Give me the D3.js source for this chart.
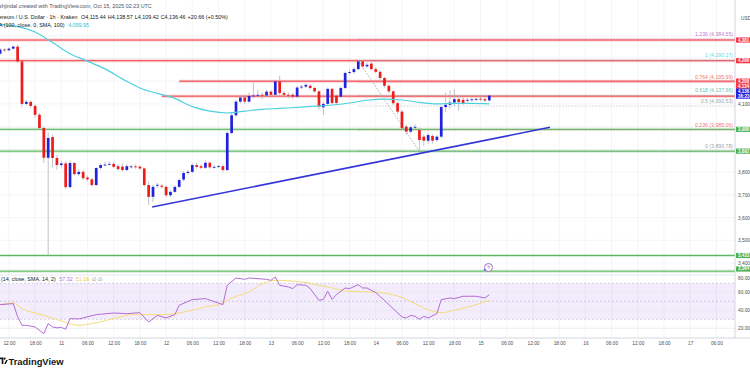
<!DOCTYPE html>
<html>
<head>
<meta charset="utf-8">
<script src="https://cdn.jsdelivr.net/npm/d3@7"></script>
<style>
body { margin: 0; background: #fff; }
svg { display: block; }
text { font-family: "Liberation Sans", Arial, sans-serif; }
</style>
</head>
<body>
<div id="chart"></div>
<script>
// hourly candles, first one is Oct 10 10:00 UTC
const opens = [
    4321, 4339, 4336, 4343, 4352, 4287, 4100, 4109, 4091, 4052,
    3994, 3863, 3954, 3862, 3831, 3838, 3734, 3840, 3791, 3801,
    3776, 3768, 3743, 3818, 3831, 3833, 3836, 3826, 3824, 3809,
    3823, 3825, 3824, 3816, 3743, 3691, 3740, 3740, 3735, 3698,
    3713, 3735, 3767, 3796, 3801, 3831, 3826, 3819, 3841, 3821,
    3823, 3826, 3809, 3972, 4050, 4110, 4128, 4110, 4135, 4137,
    4140, 4137, 4154, 4140, 4199, 4148, 4140, 4140, 4132, 4172,
    4176, 4180, 4170, 4155, 4085, 4100, 4166, 4136, 4132, 4170,
    4236, 4240, 4253, 4287, 4265, 4277, 4253, 4241, 4214, 4180,
    4155, 4103, 4066, 4000, 3978, 3997, 3985, 3956, 3938, 3959,
    3941, 3956, 4086, 4096, 4106, 4121, 4118, 4116, 4117, 4119,
    4123, 4121, 4115.44
];
const closes = [
    4339, 4336, 4343, 4352, 4287, 4100, 4109, 4091, 4052, 3994,
    3863, 3950, 3862, 3831, 3838, 3734, 3840, 3791, 3801, 3773,
    3768, 3743, 3818, 3831, 3833, 3836, 3823, 3813, 3809, 3826,
    3825, 3822, 3816, 3743, 3691, 3735, 3744, 3735, 3698, 3713,
    3735, 3765, 3796, 3801, 3831, 3823, 3819, 3841, 3821, 3823,
    3826, 3809, 3972, 4050, 4110, 4128, 4110, 4135, 4137, 4140,
    4137, 4154, 4140, 4199, 4148, 4140, 4136, 4132, 4172, 4176,
    4184, 4170, 4155, 4088, 4100, 4166, 4104, 4104, 4170, 4236,
    4240, 4253, 4287, 4265, 4272, 4253, 4241, 4214, 4180, 4155,
    4103, 4066, 3993, 3978, 3997, 3999, 3941, 3938, 3963, 3938,
    3956, 4086, 4096, 4106, 4121, 4108, 4102, 4118, 4120, 4122,
    4120, 4115, 4136.46
];
const highs = [
    4345, 4345, 4348, 4356, 4362, 4290, 4118, 4114, 4098, 4060,
    4000, 3975, 3965, 3875, 3850, 3848, 3852, 3845, 3812, 3808,
    3785, 3775, 3822, 3838, 3845, 3848, 3845, 3835, 3838, 3835,
    3832, 3834, 3830, 3820, 3757, 3742, 3752, 3748, 3742, 3720,
    3742, 3772, 3805, 3812, 3838, 3840, 3835, 3852, 3848, 3830,
    3832, 3833, 3980, 4060, 4118, 4138, 4134, 4150, 4193, 4162,
    4150, 4162, 4160, 4205, 4224, 4158, 4150, 4148, 4178, 4184,
    4190, 4186, 4176, 4160, 4108, 4172, 4170, 4142, 4176, 4242,
    4250, 4262, 4292, 4290, 4282, 4284, 4262, 4248, 4220, 4186,
    4160, 4110, 4072, 4008, 4005, 4010, 3996, 3965, 3970, 3966,
    3962, 4092, 4150, 4160, 4165, 4140, 4130, 4125, 4128, 4130,
    4132, 4128, 4138.57
];
const lows = [
    4315, 4330, 4332, 4340, 4280, 4085, 4092, 4082, 4040, 3985,
    3840, 3433, 3820, 3810, 3820, 3725, 3728, 3785, 3782, 3765,
    3760, 3735, 3738, 3810, 3825, 3828, 3818, 3806, 3802, 3805,
    3815, 3815, 3810, 3735, 3655, 3668, 3730, 3728, 3690, 3690,
    3708, 3730, 3760, 3790, 3795, 3815, 3812, 3814, 3815, 3815,
    3818, 3800, 3804, 3965, 4042, 4102, 4100, 4104, 4125, 4128,
    4120, 4130, 4132, 4136, 4140, 4130, 4126, 4120, 4128, 4165,
    4170, 4162, 4148, 4075, 4051, 4095, 4098, 4098, 4126, 4164,
    4228, 4232, 4248, 4258, 4258, 4246, 4235, 4206, 4172, 4146,
    4095, 4055, 3985, 3965, 3970, 3985, 3891, 3915, 3925, 3926,
    3932, 3950, 4062, 4080, 4090, 4070, 4095, 4108, 4110, 4112,
    4112, 4108, 4109.42
];

// SMA 100 (hour index from first candle)
const smaHours = [-2, 0, 4, 8, 12, 16, 20, 24, 28, 32, 36, 40, 44, 48, 52, 56, 60, 64, 68, 72, 76, 80, 84, 88, 92, 96, 100, 104, 108, 112];
const smaValues = [4452, 4450, 4440, 4416, 4370, 4321, 4288, 4254, 4210, 4170, 4146, 4124, 4088, 4068, 4060, 4068, 4076, 4080, 4085, 4090, 4095, 4104, 4116, 4121, 4117, 4107, 4100, 4102, 4102, 4099.95];

// RSI 14 and its SMA 14
const rsiHours = [0, 3, 4, 5, 6, 8, 10, 11, 12, 13, 14, 15, 16, 18, 22, 26, 29, 32, 34, 36, 38, 40, 41, 44, 47, 50, 51, 52, 54, 56, 57, 61, 62, 63, 64, 66, 67, 68, 70, 71, 73, 74, 75, 76, 77, 79, 80, 82, 83, 84, 86, 88, 89, 92, 93, 94, 95, 96, 97, 98, 100, 101, 103, 104, 106, 109, 111, 112];
const rsiValues = [46.3, 47.4, 33, 23.3, 23.3, 21.5, 14, 25.2, 21.5, 20.5, 21, 18.9, 30.8, 30.4, 35.2, 37, 36.3, 37.4, 27, 34.4, 31.5, 35.2, 45.6, 51.9, 53, 48, 46.3, 67.8, 75.9, 74.4, 75.9, 74.4, 73.3, 77, 67.8, 65.9, 64.1, 68.5, 67.8, 64.1, 51.1, 52.2, 61.1, 52.2, 57.4, 64.8, 64.1, 68.5, 64.8, 64.8, 59.6, 51.1, 46.3, 32.6, 31.5, 34.4, 33.3, 30, 33.3, 31.5, 36.3, 51.9, 53.7, 53, 55.6, 55.6, 53.7, 57.32];
const rsiMaHours = [0, 3, 5, 10, 14, 18, 21, 26, 30, 37, 43, 47, 50, 53, 57, 60, 63, 69, 75, 80, 85, 91, 95, 99, 101, 104, 109, 112];
const rsiMaValues = [46.3, 48.1, 41.9, 34.4, 28.1, 23.3, 25.2, 30.8, 35.2, 35.2, 38.9, 43.7, 46.3, 53.7, 60.4, 69.6, 73.3, 71.5, 65.9, 61.1, 60.4, 55.9, 47.4, 38.9, 37.4, 40, 46.3, 51.16];

const priceTicks = [3400, 3500, 3600, 3700, 3800, 3900, 4000, 4100, 4200, 4300, 4400];
const rsiTicks = [20, 40, 60, 80];
const rsiBands = [70, 50, 30];

// drawn horizontal lines: price, and hour where the line starts
const resistances = [4381, 4290, 4200, 4134];
const resistanceStart = [-20, -20, 41, 37];
const supports = [3988, 3892, 3433, 3364];

// fib retracement from the Oct 13 high to the Oct 14 low
const fibLevels = ["1.236", "1", "0.764", "0.618", "0.5", "0.236", "0"];
const fibPrices = [4384.55, 4290.27, 4195.99, 4137.66, 4090.53, 3985.06, 3890.78];
const fibColors = ["#ab47bc", "#26c6da", "#e53935", "#26a69a", "#787b86", "#f23645", "#787b86"];
const fibAnchor = [{ h: 82, p: 4290.27 }, { h: 96, p: 3890.78 }];

const trendLine = [{ h: 34.8, p: 3646 }, { h: 125.9, p: 3997 }];

const upColor = "#2222dd";
const downColor = "#ee1b1b";

const svg = d3.select("#chart").append("svg").attr("width", 750).attr("height", 375);

const t0 = Date.UTC(2025, 9, 10, 10);
const hourMs = 3600e3;
const dates = opens.map((d, i) => new Date(t0 + i * hourMs));
const x = d3.scaleUtc().domain([dates[0], dates[dates.length - 1]]).range([0.15, 489.3]);
const xh = h => x(new Date(t0 + h * hourMs));
const y = d3.scaleLinear().domain([3400, 4400]).range([263, 35.7]);
const yR = d3.scaleLinear().domain([20, 80]).range([328.3, 274.3]);

const plotRight = 735;
const mainBottom = 275;
const rsiBottom = 338;

const defs = svg.append("defs");
defs.append("clipPath").attr("id", "mainClip").append("rect")
    .attr("x", 0).attr("y", 0).attr("width", plotRight).attr("height", mainBottom);
defs.append("clipPath").attr("id", "rsiClip").append("rect")
    .attr("x", 0).attr("y", mainBottom).attr("width", plotRight).attr("height", rsiBottom - mainBottom);

// grid
const timeTicks = d3.utcHour.every(6).range(x.invert(-5), x.invert(plotRight));
svg.append("g").selectAll("line").data(timeTicks).join("line")
    .attr("x1", d => x(d)).attr("x2", d => x(d))
    .attr("y1", 0).attr("y2", rsiBottom)
    .attr("stroke", "#eef0f4").attr("stroke-width", 0.7);
svg.append("g").selectAll("line").data(priceTicks).join("line")
    .attr("x1", 0).attr("x2", plotRight)
    .attr("y1", d => y(d)).attr("y2", d => y(d))
    .attr("stroke", "#eef0f4").attr("stroke-width", 0.7);

const main = svg.append("g").attr("clip-path", "url(#mainClip)");

// support / resistance lines
function hLine(p, h0, color) {
    const x0 = Math.max(xh(h0), 0);
    main.append("line").attr("x1", x0).attr("x2", plotRight)
        .attr("y1", y(p)).attr("y2", y(p))
        .attr("stroke", color).attr("stroke-opacity", 0.25).attr("stroke-width", 3);
    main.append("line").attr("x1", x0).attr("x2", plotRight)
        .attr("y1", y(p)).attr("y2", y(p))
        .attr("stroke", color).attr("stroke-width", 1);
}
resistances.forEach((p, i) => hLine(p, resistanceStart[i], "#f0444a"));
supports.forEach(p => hLine(p, -20, "#5cb860"));

// fib levels
main.append("g").selectAll("line").data(fibPrices).join("line")
    .attr("x1", xh(fibAnchor[0].h)).attr("x2", plotRight)
    .attr("y1", d => y(d)).attr("y2", d => y(d))
    .attr("stroke", (d, i) => fibColors[i]).attr("stroke-opacity", 0.45)
    .attr("stroke-width", 0.8).attr("stroke-dasharray", "1.5,1.5");
main.append("line")
    .attr("x1", xh(fibAnchor[0].h)).attr("y1", y(fibAnchor[0].p))
    .attr("x2", xh(fibAnchor[1].h)).attr("y2", y(fibAnchor[1].p))
    .attr("stroke", "#9598a1").attr("stroke-width", 0.8).attr("stroke-dasharray", "1.5,1.5");
main.append("g").selectAll("text").data(fibLevels).join("text")
    .attr("x", 733).attr("y", (d, i) => y(fibPrices[i]) - 3.3)
    .attr("text-anchor", "end").attr("font-size", 5.2)
    .attr("fill", (d, i) => fibColors[i]).attr("fill-opacity", 0.75)
    .text((d, i) => `${d} (${d3.format(",.2f")(fibPrices[i])})`);

// candles
const candles = opens.map((o, i) => ({ t: dates[i], o, h: highs[i], l: lows[i], c: closes[i] }));
main.append("g").selectAll("line").data(candles).join("line")
    .attr("x1", d => x(d.t)).attr("x2", d => x(d.t))
    .attr("y1", d => y(d.h)).attr("y2", d => y(d.l))
    .attr("stroke", "#a6a9b0").attr("stroke-width", 0.7);
main.append("g").selectAll("rect").data(candles).join("rect")
    .attr("x", d => x(d.t) - 1.35).attr("width", 2.7)
    .attr("y", d => y(Math.max(d.o, d.c)))
    .attr("height", d => Math.max(0.9, Math.abs(y(d.o) - y(d.c))))
    .attr("fill", d => d.c >= d.o ? upColor : downColor);

// SMA 100
main.append("path")
    .datum(smaHours.map((h, i) => [h, smaValues[i]]))
    .attr("d", d3.line().x(d => xh(d[0])).y(d => y(d[1])).curve(d3.curveMonotoneX))
    .attr("fill", "none").attr("stroke", "#4fd0df").attr("stroke-width", 1.2);

// trend line
main.append("line")
    .attr("x1", xh(trendLine[0].h)).attr("y1", y(trendLine[0].p))
    .attr("x2", xh(trendLine[1].h)).attr("y2", y(trendLine[1].p))
    .attr("stroke", "#3434d8").attr("stroke-width", 1.6);

// event marker
main.append("circle").attr("cx", 488.5).attr("cy", 267.5).attr("r", 4)
    .attr("fill", "#fff").attr("stroke", "#a05cc8").attr("stroke-width", 0.9);
main.append("text").attr("x", 488.5).attr("y", 269.4).attr("text-anchor", "middle")
    .attr("font-size", 5).attr("fill", "#a05cc8").text("ϟ");
main.append("circle").attr("cx", 484.6).attr("cy", 269.6).attr("r", 0.9).attr("fill", "#2962ff");

// RSI pane
const rsi = svg.append("g").attr("clip-path", "url(#rsiClip)");
rsi.append("rect").attr("x", 0).attr("width", plotRight)
    .attr("y", yR(70)).attr("height", yR(30) - yR(70))
    .attr("fill", "#a46be6").attr("fill-opacity", 0.13);
rsi.append("g").selectAll("line").data([20, 40, 60]).join("line")
    .attr("x1", 0).attr("x2", plotRight).attr("y1", d => yR(d)).attr("y2", d => yR(d))
    .attr("stroke", "#e6e8ee").attr("stroke-width", 0.7);
rsi.append("g").selectAll("line").data(rsiBands).join("line")
    .attr("x1", 0).attr("x2", plotRight).attr("y1", d => yR(d)).attr("y2", d => yR(d))
    .attr("stroke", "#9aa0ac").attr("stroke-opacity", 0.7).attr("stroke-width", 0.6)
    .attr("stroke-dasharray", "2,2");
rsi.append("path")
    .datum(rsiMaHours.map((h, i) => [h, rsiMaValues[i]]))
    .attr("d", d3.line().x(d => xh(d[0])).y(d => yR(d[1])).curve(d3.curveMonotoneX))
    .attr("fill", "none").attr("stroke", "#f6dc7a").attr("stroke-width", 1);
rsi.append("path")
    .datum(rsiHours.map((h, i) => [h, rsiValues[i]]))
    .attr("d", d3.line().x(d => xh(d[0])).y(d => yR(d[1])))
    .attr("fill", "none").attr("stroke", "#b36bd6").attr("stroke-width", 1);

// pane borders
svg.append("line").attr("x1", 0).attr("x2", plotRight).attr("y1", mainBottom).attr("y2", mainBottom)
    .attr("stroke", "#e0e3eb").attr("stroke-width", 0.8);
svg.append("line").attr("x1", 0).attr("x2", 750).attr("y1", rsiBottom).attr("y2", rsiBottom)
    .attr("stroke", "#c9ccd3").attr("stroke-width", 0.8);
svg.append("line").attr("x1", plotRight).attr("x2", plotRight).attr("y1", 0).attr("y2", rsiBottom)
    .attr("stroke", "#c9ccd3").attr("stroke-width", 0.8);

// time axis
const timeAxis = d3.axisBottom(x).tickValues(timeTicks.filter(d => x(d) > 2))
    .tickSize(0).tickPadding(0)
    .tickFormat(d => d.getUTCHours() === 0 ? d3.utcFormat("%-d")(d) : d3.utcFormat("%H:%M")(d));
const gx = svg.append("g").attr("transform", `translate(0,${rsiBottom + 7})`).call(timeAxis);
gx.select(".domain").remove();
gx.selectAll("text").attr("font-size", 4.8).attr("fill", "#4a4e59").attr("dy", 0);

// axis labels for the drawn lines, with their vertical centres
const fmt0 = d3.format(",.0f");
const lastClose = closes[closes.length - 1];
const boxLabels = [];
resistances.forEach((p, i) => boxLabels.push({ cy: i === 3 ? y(p) - 10 : y(p), h: 5.2, color: "#f23645", lines: [fmt0(p)] }));
supports.forEach((p, i) => boxLabels.push({ cy: i === 3 ? y(p) - 2.2 : y(p), h: 5.2, color: "#4caf50", lines: [fmt0(p)] }));
boxLabels.push({ cy: y(lastClose) - 2, h: 10.2, color: upColor, lines: [fmt0(lastClose), "36:23"] });

// price axis, hiding ticks covered by a label box
const freeTicks = priceTicks.filter(t => boxLabels.every(b => Math.abs(y(t) - b.cy) > b.h / 2 + 2.2));
const priceAxis = d3.axisRight(y).tickValues(freeTicks).tickSize(0).tickPadding(0)
    .tickFormat(d3.format(","));
const gy = svg.append("g").attr("transform", `translate(${plotRight + 3},0)`).call(priceAxis);
gy.select(".domain").remove();
gy.selectAll("text").attr("font-size", 4.8).attr("fill", "#4a4e59");

const rsiAxis = d3.axisRight(yR).tickValues(rsiTicks).tickSize(0).tickPadding(0)
    .tickFormat(d3.format(".2f"));
const gr = svg.append("g").attr("transform", `translate(${plotRight + 3},0)`).call(rsiAxis);
gr.select(".domain").remove();
gr.selectAll("text").attr("font-size", 4.8).attr("fill", "#4a4e59")
    .attr("dy", d => d === 80 ? "1.1em" : "0.32em");

svg.append("text").attr("x", 741).attr("y", 20).attr("font-size", 4.8).attr("fill", "#4a4e59").text("USD");

boxLabels.forEach(b => {
    svg.append("rect").attr("x", plotRight + 1).attr("y", b.cy - b.h / 2).attr("width", 20).attr("height", b.h)
        .attr("fill", b.color);
    b.lines.forEach((t, i) => {
        svg.append("text").attr("x", plotRight + 3)
            .attr("y", b.cy - b.h / 2 + 4.1 + i * 5)
            .attr("font-size", 4.5).attr("font-weight", "bold").attr("fill", "#fff").text(t);
    });
});

// legends
const head = svg.append("g").attr("font-size", 5.4);
head.append("text").attr("x", -1).attr("y", 8).attr("fill", "#50535e")
    .text("shjindal created with TradingView.com, Oct 15, 2025 02:23 UTC");
const l2 = head.append("text").attr("x", -1).attr("y", 19).attr("fill", "#131722");
l2.append("tspan").text("ereum / U.S. Dollar · 1h · Kraken ");
[["O", "4,115.44"], ["H", "4,138.57"], ["L", "4,109.42"], ["C", "4,136.46"]].forEach(([k, v]) => {
    l2.append("tspan").attr("dx", 2).text(k);
    l2.append("tspan").text(v);
});
l2.append("tspan").attr("dx", 2).text("+20.66 (+0.50%)");
const l3 = head.append("text").attr("x", -1).attr("y", 27).attr("fill", "#131722");
l3.append("tspan").text("A (100, close, 0, SMA, 100) ");
l3.append("tspan").attr("dx", 2).attr("fill", "#26c6da").text("4,099.95");

const l4 = svg.append("text").attr("x", 1).attr("y", 281).attr("font-size", 5.4).attr("fill", "#131722");
l4.append("tspan").text("(14, close, SMA, 14, 2) ");
l4.append("tspan").attr("dx", 2).attr("fill", "#b36bd6").text("57.32");
l4.append("tspan").attr("dx", 3).attr("fill", "#e8c84a").text("51.16");
l4.append("tspan").attr("dx", 3).attr("fill", "#787b86").text("∅  ∅");

// TradingView mark
const logo = svg.append("g").attr("fill", "#131722");
logo.append("path").attr("d", "M0,357.5 h3.4 v6.5 h-1.7 v-4.8 h-1.7 z");
logo.append("circle").attr("cx", 4.6).attr("cy", 358.6).attr("r", 1.1);
logo.append("path").attr("d", "M4.2,364 l2,-4 h1.6 l-2,4 z");
svg.append("text").attr("x", 8.5).attr("y", 364.5).attr("font-size", 9.4).attr("font-weight", "bold")
    .attr("fill", "#131722").text("TradingView");
</script>
</body>
</html>
